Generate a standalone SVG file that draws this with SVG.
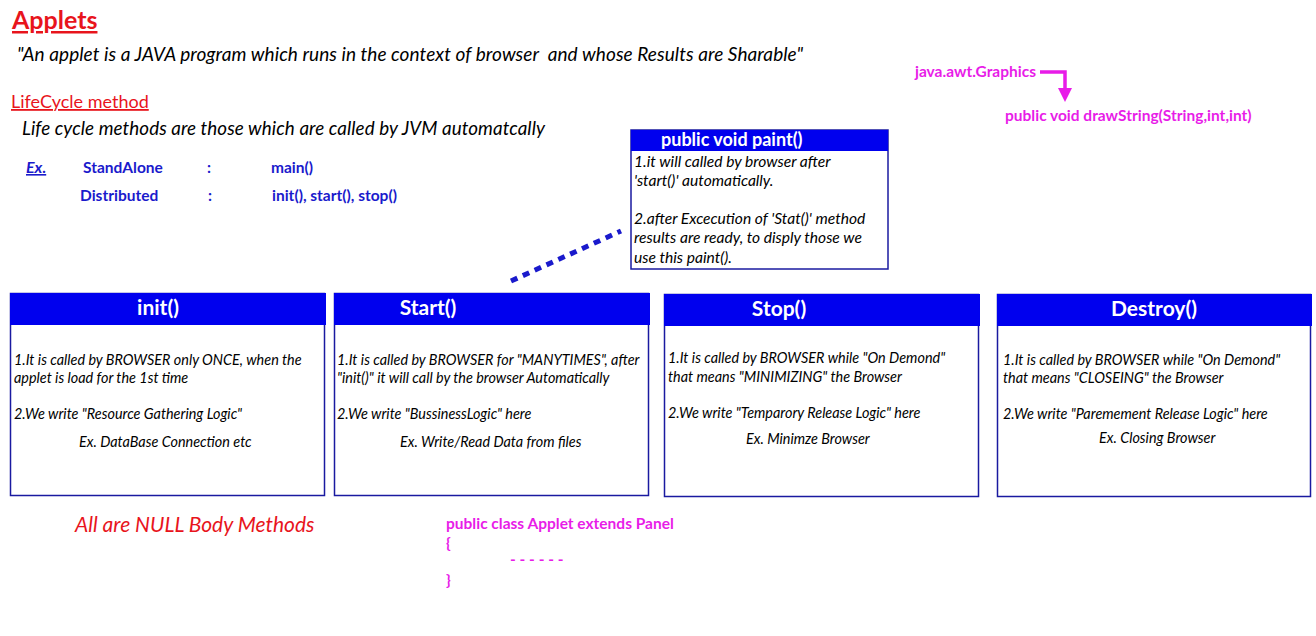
<svg xmlns="http://www.w3.org/2000/svg" width="1316" height="636" viewBox="0 0 1316 636">
<style>
text{font-family:Lato,"Open Sans","Liberation Sans",sans-serif}
.red{fill:#e8141c}
.blue{fill:#1a1acc;font-weight:bold;font-size:15.5px}
.mag{fill:#e81ce8;font-weight:bold;font-size:15.5px}
.body{font-style:italic;font-size:14.4px;fill:#000}
.pb{font-style:italic;font-size:15.6px;fill:#000}
.hdr{fill:#0000ee}
.box{fill:#fff;stroke:#1a1aa0;stroke-width:1.5}
.ttl{fill:#fff;font-weight:bold;font-size:21px;text-anchor:middle}
</style>
<defs>
<marker id="mArr" markerWidth="4" markerHeight="4" refX="2" refY="2" orient="auto" markerUnits="strokeWidth">
<path d="M0,0 L4,2 L0,4 Z" fill="#e81ce8"/>
</marker>
</defs>
<rect width="1316" height="636" fill="#fff"/>

<g id="header">
<text x="12" y="29" class="red" font-size="25" font-weight="bold" text-decoration="underline">Applets</text>
<text x="17" y="61" font-size="19" font-style="italic" fill="#000" textLength="786" xml:space="preserve">"An applet is a JAVA program which runs in the context of browser  and whose Results are Sharable"</text>
<text x="11" y="108" class="red" font-size="18" text-decoration="underline">LifeCycle method</text>
<text x="22" y="135" font-size="18.8" font-style="italic" fill="#000" textLength="523">Life cycle methods are those which are called by JVM automatcally</text>
<text x="26" y="173" fill="#1a1acc" font-size="16" font-weight="bold" font-style="italic" text-decoration="underline">Ex.</text>
<text x="83" y="173" class="blue">StandAlone</text>
<text x="207" y="173" class="blue">:</text>
<text x="271" y="173" class="blue">main()</text>
<text x="80" y="201" class="blue">Distributed</text>
<text x="208" y="201" class="blue">:</text>
<text x="272" y="201" class="blue">init(), start(), stop()</text>
</g>

<g id="graphics">
<text x="915" y="77" class="mag">java.awt.Graphics</text>
<text x="1005" y="121" class="mag">public void drawString(String,int,int)</text>
</g>

<g id="paint">
<rect x="631" y="130" width="257" height="139" class="box" stroke-width="2" stroke="#1a1acc"/>
<rect x="631" y="130" width="257" height="21" class="hdr"/>
<text x="661" y="146" fill="#fff" font-weight="bold" font-size="18">public void paint()</text>
<text x="634" y="167" class="pb">1.it will called by browser after</text>
<text x="634" y="186" class="pb">'start()' automatically.</text>
<text x="634" y="224" class="pb">2.after Excecution of 'Stat()' method</text>
<text x="634" y="243" class="pb">results are ready, to disply those we</text>
<text x="634" y="263" class="pb">use this paint().</text>
</g>

<g id="init">
<rect x="10.5" y="293.5" width="314" height="202" class="box"/>
<rect x="10" y="293" width="316" height="32" class="hdr"/>
<text x="158" y="315" class="ttl">init()</text>
<text x="14" y="365" class="body">1.It is called by BROWSER only ONCE, when the</text>
<text x="14" y="383" class="body">applet is load for the 1st time</text>
<text x="14" y="419" class="body">2.We write "Resource Gathering Logic"</text>
<text x="79" y="447" class="body">Ex. DataBase Connection etc</text>
</g>

<g id="start">
<rect x="334.5" y="293.5" width="314" height="202" class="box"/>
<rect x="334" y="293" width="316" height="32" class="hdr"/>
<text x="428" y="315" class="ttl">Start()</text>
<text x="337" y="365" class="body">1.It is called by BROWSER for "MANYTIMES", after</text>
<text x="337" y="383" class="body">"init()" it will call by the browser Automatically</text>
<text x="337" y="419" class="body">2.We write "BussinessLogic" here</text>
<text x="400" y="447" class="body">Ex. Write/Read Data from files</text>
</g>

<g id="stop">
<rect x="664.5" y="294.5" width="314" height="202" class="box"/>
<rect x="664" y="294" width="316" height="32" class="hdr"/>
<text x="779" y="316" class="ttl">Stop()</text>
<text x="668" y="363" class="body">1.It is called by BROWSER while "On Demond"</text>
<text x="668" y="382" class="body">that means "MINIMIZING" the Browser</text>
<text x="668" y="418" class="body">2.We write "Temparory Release Logic" here</text>
<text x="746" y="444" class="body">Ex. Minimze Browser</text>
</g>

<g id="destroy">
<rect x="997.5" y="294.5" width="313" height="202" class="box"/>
<rect x="997" y="294" width="315" height="32" class="hdr"/>
<text x="1154" y="316" class="ttl">Destroy()</text>
<text x="1003" y="365" class="body">1.It is called by BROWSER while "On Demond"</text>
<text x="1003" y="383" class="body">that means "CLOSEING" the Browser</text>
<text x="1003" y="419" class="body">2.We write "Paremement Release Logic" here</text>
<text x="1099" y="443" class="body">Ex. Closing Browser</text>
</g>

<g id="footer">
<text x="75" y="532" class="red" font-size="21" font-style="italic">All are NULL Body Methods</text>
<text x="446" y="529" class="mag">public class Applet extends Panel</text>
<text x="446" y="548" class="mag">{</text>
<text x="510" y="565" class="mag">- - - - - -</text>
<text x="446" y="585" class="mag">}</text>
</g>

<g id="connectors">
<line x1="511" y1="281" x2="621" y2="231" stroke="#1a1acc" stroke-width="5" stroke-dasharray="7,6"/>
<polyline points="1040,72 1065,72 1065,95" fill="none" stroke="#e81ce8" stroke-width="3.5" marker-end="url(#mArr)"/>
</g>
</svg>
